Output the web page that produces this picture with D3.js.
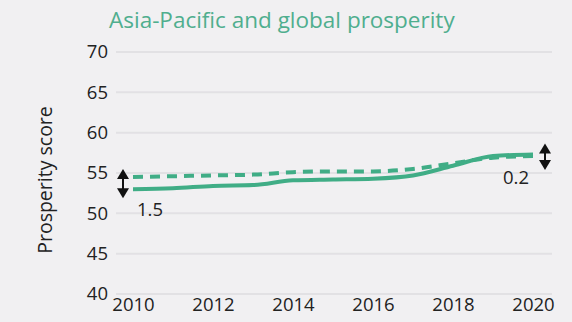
<!DOCTYPE html>
<html><head><meta charset="utf-8">
<script src="https://cdn.jsdelivr.net/npm/d3@7"></script>
<style>
html,body{margin:0;padding:0;background:#f1f0f2;}
svg{display:block;}
text{font-family:"Open Sans",sans-serif;}
</style></head>
<body>
<script>
const years = [2010,2011,2012,2013,2014,2015,2016,2017,2018,2019,2020];
const asiaPacific = [53.0,53.1,53.4,53.5,54.1,54.2,54.3,54.7,55.9,57.1,57.3];
const globalScore = [54.5,54.6,54.7,54.8,55.1,55.2,55.2,55.5,56.2,56.9,57.1];
const yTicks = [40,45,50,55,60,65,70];
const xTicks = [2010,2012,2014,2016,2018,2020];
const gapLabels = ["1.5","0.2"];
const title = "Asia-Pacific and global prosperity";
const yTitle = "Prosperity score";

const W = 572, H = 322;
const green = "#40ad86";
const svg = d3.select("body").append("svg").attr("width", W).attr("height", H);
svg.append("rect").attr("width", W).attr("height", H).attr("fill", "#f1f0f2");

const x = d3.scaleLinear().domain([2010, 2020]).range([133, 533]);
const y = d3.scaleLinear().domain([40, 70]).range([294, 52]);

// gridlines
svg.append("g").selectAll("line").data(yTicks).join("line")
  .attr("x1", 116).attr("x2", 552)
  .attr("y1", d => y(d)).attr("y2", d => y(d))
  .attr("stroke", "#e2e1e4").attr("stroke-width", 2);

// y axis
const yAxis = svg.append("g").attr("transform", "translate(108,0)")
  .call(d3.axisLeft(y).tickValues(yTicks).tickSize(0).tickPadding(0));
yAxis.select(".domain").remove();
yAxis.selectAll("text").attr("font-size", 18.5).attr("fill", "#222")
  .attr("font-family", "Open Sans, sans-serif");

// x axis
const xAxis = svg.append("g").attr("transform", "translate(0,298)")
  .call(d3.axisBottom(x).tickValues(xTicks).tickFormat(d3.format("d")).tickSize(0).tickPadding(0));
xAxis.select(".domain").remove();
xAxis.selectAll("text").attr("font-size", 18.5).attr("fill", "#222").attr("dy", "0.71em")
  .attr("font-family", "Open Sans, sans-serif");

// titles
svg.append("text").attr("x", 109).attr("y", 28).attr("font-size", 22.5)
  .attr("fill", "#4fae8e").text(title);
svg.append("text").attr("transform", "translate(52,180) rotate(-90)")
  .attr("text-anchor", "middle").attr("font-size", 19.5).attr("fill", "#222").text(yTitle);

// lines
const line = d3.line().x((d, i) => x(years[i])).y(d => y(d)).curve(d3.curveMonotoneX);
svg.append("path").datum(globalScore).attr("d", line).attr("fill", "none")
  .attr("stroke", green).attr("stroke-width", 4).attr("stroke-dasharray", "10,7");
svg.append("path").datum(asiaPacific).attr("d", line).attr("fill", "none")
  .attr("stroke", green).attr("stroke-width", 4);

// arrows
function dblArrow(cx, y1, y2) {
  const g = svg.append("g");
  g.append("line").attr("x1", cx).attr("x2", cx).attr("y1", y1 + 6).attr("y2", y2 - 6)
    .attr("stroke", "#111").attr("stroke-width", 2);
  g.append("path").attr("d", `M${cx},${y1} L${cx - 6},${y1 + 10} L${cx + 6},${y1 + 10} Z`).attr("fill", "#111");
  g.append("path").attr("d", `M${cx},${y2} L${cx - 6},${y2 - 10} L${cx + 6},${y2 - 10} Z`).attr("fill", "#111");
}
dblArrow(x(2010) - 10, y(globalScore[0]) - 8, y(asiaPacific[0]) + 9);
dblArrow(x(2020) + 12, y(asiaPacific[10]) - 11, y(globalScore[10]) + 14);

svg.append("text").attr("x", x(2010) + 4).attr("y", 216).attr("font-size", 18.5).attr("fill", "#222").text(gapLabels[0]);
svg.append("text").attr("x", x(2020) - 4).attr("y", 184).attr("text-anchor", "end").attr("font-size", 18.5).attr("fill", "#222").text(gapLabels[1]);
</script>
</body></html>
